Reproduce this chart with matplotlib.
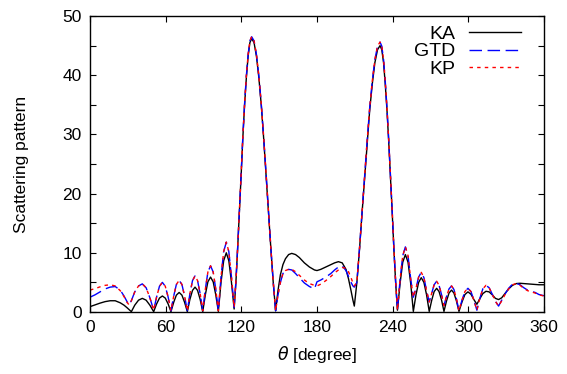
import matplotlib
matplotlib.use("Agg")
import matplotlib.pyplot as plt
from matplotlib.ticker import MultipleLocator

plt.rcParams["font.family"] = ["Liberation Sans", "DejaVu Sans"]

# angle grid (degrees), one row per lobe
theta = [
    0, 4, 8, 12, 16, 20, 24, 27, 29.5, 31, 32.8,
    35.5, 38.5, 41.5, 44.5, 47.5, 50.5,
    52.8, 55.1, 57.4, 59.7, 62.0, 64.2,
    66.4, 68.5, 70.7, 72.9, 75.0, 77.2,
    79.2, 81.3, 83.3, 85.3, 87.4, 89.4,
    91.5, 93.5, 95.6, 97.7, 99.7, 101.8,
    103.9, 106.0, 108.1, 110.1, 112.2, 114.3,
    115.7, 117.1, 118.5, 119.9, 121.2, 122.6, 124.0, 125.4, 126.8, 128.2,
    130.1, 132.0, 133.9, 135.8, 137.7, 139.6, 141.5, 143.4, 145.3, 147.2,
    149, 151, 153, 155, 157.5, 160, 163, 166, 170, 174, 178, 180,
    183, 187, 191, 194, 197, 200, 203, 205, 207, 208.5, 209.6,
    211.6, 213.7, 215.7, 217.8, 219.8, 221.8, 223.9, 225.9, 228.0, 230.0,
    231.4, 232.8, 234.1, 235.5, 236.9, 238.3, 239.7, 241.0, 242.4, 243.8,
    245.9, 248.0, 250.1, 252.2, 254.3, 256.4,
    258.5, 260.6, 262.7, 264.8, 266.9, 269.0,
    271.0, 272.9, 274.9, 276.8, 278.8, 280.7,
    282.7, 284.7, 286.7, 288.6, 290.6, 292.6,
    295.0, 297.3, 299.7, 302.1, 304.4, 306.8,
    309.0, 311.5, 314.0, 316.5, 319.0, 321.5, 324.0,
    326.5, 329, 332, 335, 338, 341, 344, 347, 350, 353, 356, 360,
]

ka = [
    0.9, 1.2, 1.5, 1.75, 1.9, 1.9, 1.55, 1.15, 0.7, 0.4, 0.05,
    1.15, 2.0, 2.3, 2.0, 1.15, 0.05,
    1.35, 2.35, 2.7, 2.35, 1.35, 0.05,
    1.65, 2.85, 3.3, 2.85, 1.65, 0.05,
    2.1, 3.65, 4.2, 3.65, 2.1, 0.05,
    2.95, 5.1, 5.9, 5.1, 2.95, 0.1,
    5.0, 8.65, 10.0, 8.65, 5.0, 0.5,
    5.0, 10.8, 17.0, 23.3, 29.4, 35.0, 39.6, 43.2, 45.5, 46.2,
    45.5, 43.2, 39.6, 35.0, 29.4, 23.3, 17.0, 10.8, 5.0, 0.2,
    3.5, 6.3, 8.0, 9.0, 9.7, 9.9, 9.7, 9.2, 8.3, 7.6, 7.1, 7.0,
    7.2, 7.6, 8.0, 8.3, 8.5, 8.3, 7.2, 5.6, 3.6, 2.0, 1.0,
    4.9, 10.5, 16.6, 22.7, 28.7, 34.1, 38.6, 42.1, 44.3, 45.0,
    44.3, 42.1, 38.6, 34.1, 28.7, 22.7, 16.6, 10.5, 4.9, 0.3,
    4.85, 8.4, 9.7, 8.4, 4.85, 0.1,
    2.9, 5.0, 5.8, 5.0, 2.9, 0.1,
    2.0, 3.45, 4.0, 3.45, 2.0, 0.1,
    1.85, 3.2, 3.7, 3.2, 1.85, 0.1,
    1.7, 2.95, 3.4, 3.0, 2.1, 1.3,
    2.2, 3.1, 3.5, 3.4, 2.9, 2.3, 2.1,
    2.4, 3.1, 3.9, 4.5, 4.8, 4.85, 4.8, 4.75, 4.7, 4.65, 4.6, 4.6,
]

gtd = [
    2.5, 2.9, 3.4, 3.9, 4.2, 4.3, 3.7, 2.7, 1.7, 1.2, 1.9,
    3.4, 4.4, 4.75, 4.1, 2.4, 0.3,
    2.5, 4.35, 5.0, 4.35, 2.5, 0.2,
    2.7, 4.65, 5.35, 4.65, 2.7, 0.2,
    3.05, 5.3, 6.1, 5.3, 3.05, 0.2,
    3.9, 6.75, 7.8, 6.75, 3.9, 0.2,
    5.9, 10.2, 11.8, 10.2, 5.9, 0.8,
    5.1, 10.9, 17.1, 23.5, 29.6, 35.2, 39.9, 43.5, 45.8, 46.5,
    45.8, 43.5, 39.9, 35.2, 29.6, 23.5, 17.1, 10.9, 5.1, 0.2,
    2.8, 5.0, 6.5, 7.0, 7.2, 7.1, 6.5, 5.8, 4.9, 4.3, 3.9, 5.1,
    5.4, 5.9, 6.5, 7.1, 7.6, 7.8, 7.0, 6.0, 5.0, 4.4, 4.2,
    5.0, 10.7, 16.8, 23.0, 29.0, 34.5, 39.1, 42.6, 44.9, 45.6,
    44.9, 42.6, 39.1, 34.5, 29.0, 23.0, 16.8, 10.7, 5.0, 0.3,
    5.5, 9.5, 11.0, 9.5, 5.6, 2.5,
    4.0, 5.9, 6.7, 5.8, 3.6, 1.7,
    3.2, 4.6, 5.2, 4.5, 2.9, 1.1,
    2.6, 3.9, 4.4, 3.8, 2.2, 0.2,
    2.0, 3.45, 4.0, 3.45, 2.0, 0.3,
    2.2, 3.9, 4.5, 4.1, 3.0, 1.8, 1.0,
    2.0, 3.0, 4.0, 4.7, 4.85, 4.6, 4.1, 3.7, 3.5, 3.3, 2.95, 2.75,
]

kp = [
    3.7, 3.95, 4.25, 4.5, 4.6, 4.4, 3.6, 2.6, 1.6, 1.2, 1.9,
    3.4, 4.4, 4.75, 4.1, 2.4, 0.3,
    2.5, 4.35, 5.0, 4.35, 2.5, 0.2,
    2.7, 4.65, 5.35, 4.65, 2.7, 0.2,
    3.05, 5.3, 6.1, 5.3, 3.05, 0.2,
    3.9, 6.75, 7.8, 6.75, 3.9, 0.2,
    5.9, 10.2, 11.8, 10.2, 5.9, 0.8,
    5.1, 10.9, 17.1, 23.5, 29.6, 35.2, 39.9, 43.5, 45.8, 46.5,
    45.8, 43.5, 39.9, 35.2, 29.6, 23.5, 17.1, 10.9, 5.1, 0.2,
    2.8, 5.0, 6.5, 7.0, 7.2, 7.2, 6.8, 6.2, 5.4, 4.8, 4.5, 4.4,
    4.7, 5.3, 6.0, 6.6, 7.1, 7.5, 7.4, 6.8, 5.8, 4.9, 4.4,
    5.0, 10.7, 16.8, 23.0, 29.0, 34.5, 39.1, 42.6, 44.9, 45.6,
    44.9, 42.6, 39.1, 34.5, 29.0, 23.0, 16.8, 10.7, 5.0, 0.3,
    5.5, 9.5, 11.0, 9.5, 5.6, 2.5,
    4.0, 5.9, 6.7, 5.8, 3.6, 1.7,
    3.2, 4.6, 5.2, 4.5, 2.9, 1.1,
    2.6, 3.9, 4.4, 3.8, 2.2, 0.2,
    2.0, 3.45, 4.0, 3.45, 2.0, 0.3,
    2.2, 3.9, 4.5, 4.1, 3.0, 1.8, 1.0,
    1.9, 2.9, 3.9, 4.6, 4.8, 4.5, 4.0, 3.6, 3.4, 3.2, 2.9, 2.7,
]

fig = plt.figure(figsize=(5.67, 3.74), dpi=100)
ax = fig.add_axes([0.1587, 0.1658, 0.8007, 0.7914])

ax.plot(theta, ka, color="black", lw=1.0, label="KA")
ax.plot(theta, gtd, color="#0000ff", lw=1.0, dashes=(9, 4), label="GTD")
ax.plot(theta, kp, color="#ff0000", lw=1.0, dashes=(2.5, 3), label="KP")

ax.set_xlim(0, 360)
ax.set_ylim(0, 50)
ax.xaxis.set_major_locator(MultipleLocator(60))
ax.yaxis.set_major_locator(MultipleLocator(10))
ax.yaxis.set_minor_locator(MultipleLocator(5))
ax.tick_params(which="both", direction="in", top=True, right=True,
               length=4, width=0.8, labelsize=12.5, pad=6)
for spine in ax.spines.values():
    spine.set_linewidth(1.0)

ax.set_xlabel(r"$\theta$ [degree]", fontsize=12.5, labelpad=6)
ax.set_ylabel("Scattering pattern", fontsize=12.5, labelpad=24)

ax.legend(loc="upper right", bbox_to_anchor=(0.967, 0.995), frameon=False,
          markerfirst=False, fontsize=14, handlelength=2.7,
          handletextpad=0.7, labelspacing=0.0, borderaxespad=0)

fig.savefig("out.png", dpi=100)
